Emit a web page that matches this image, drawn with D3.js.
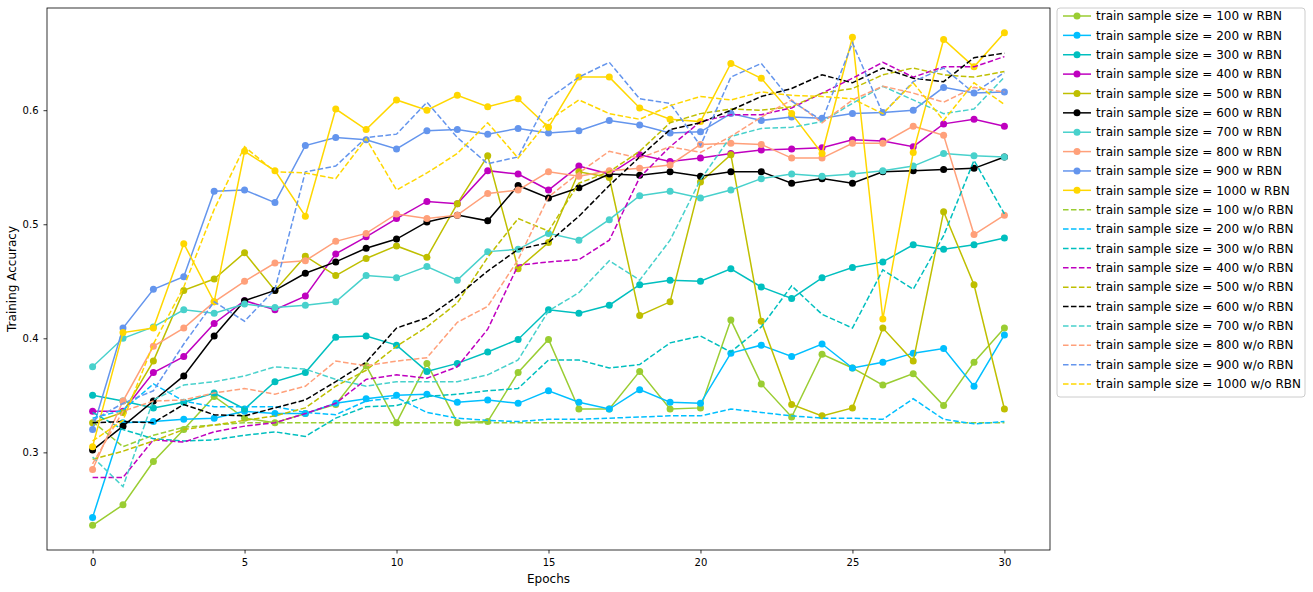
<!DOCTYPE html>
<html>
<head>
<meta charset="utf-8">
<script src="https://cdn.jsdelivr.net/npm/d3@7"></script>
<style>
  body { margin: 0; background: #fff; }
  text { font-family: "DejaVu Sans", sans-serif; }
</style>
</head>
<body>
<svg id="chart" width="1313" height="592"></svg>
<script>
const epochs = d3.range(0, 31)
const sizes = [100, 200, 300, 400, 500, 600, 700, 800, 900, 1000]
const colors = ['#9acd32', '#00bfff', '#00bfbf', '#bf00bf', '#bfbf00', '#000000', '#48d1cc', '#ffa07a', '#6495ed', '#ffd700']
const xTicks = [0, 5, 10, 15, 20, 25, 30]
const yTicks = [0.3, 0.4, 0.5, 0.6]

// with RBN (solid + markers)
const w100 = [0.236, 0.254, 0.292, 0.320, 0.349, 0.330, 0.326, 0.334, 0.342, 0.376, 0.326, 0.378, 0.326, 0.327, 0.370, 0.399, 0.338, 0.338, 0.371, 0.338, 0.339, 0.416, 0.360, 0.331, 0.386, 0.374, 0.359, 0.369, 0.341, 0.379, 0.409]
const w200 = [0.243, 0.326, 0.327, 0.329, 0.330, 0.336, 0.334, 0.334, 0.343, 0.347, 0.350, 0.351, 0.344, 0.346, 0.343, 0.354, 0.344, 0.338, 0.355, 0.344, 0.343, 0.387, 0.394, 0.384, 0.395, 0.374, 0.379, 0.387, 0.391, 0.358, 0.403]
const w300 = [0.350, 0.345, 0.339, 0.344, 0.352, 0.338, 0.362, 0.370, 0.401, 0.402, 0.394, 0.371, 0.378, 0.388, 0.399, 0.425, 0.422, 0.429, 0.447, 0.451, 0.450, 0.461, 0.445, 0.435, 0.453, 0.462, 0.467, 0.482, 0.478, 0.482, 0.488]
const w400 = [0.336, 0.336, 0.370, 0.384, 0.413, 0.433, 0.425, 0.437, 0.474, 0.489, 0.505, 0.520, 0.518, 0.547, 0.544, 0.530, 0.551, 0.544, 0.561, 0.555, 0.558, 0.562, 0.565, 0.566, 0.567, 0.574, 0.573, 0.568, 0.588, 0.592, 0.586]
const w500 = [0.326, 0.335, 0.380, 0.442, 0.452, 0.475, 0.442, 0.472, 0.455, 0.470, 0.481, 0.471, 0.518, 0.560, 0.461, 0.484, 0.546, 0.541, 0.420, 0.432, 0.537, 0.561, 0.415, 0.342, 0.332, 0.339, 0.409, 0.380, 0.511, 0.447, 0.338]
const w600 = [0.302, 0.323, 0.345, 0.367, 0.402, 0.433, 0.442, 0.457, 0.467, 0.479, 0.487, 0.502, 0.508, 0.503, 0.534, 0.523, 0.532, 0.544, 0.543, 0.546, 0.542, 0.546, 0.546, 0.536, 0.540, 0.536, 0.546, 0.547, 0.548, 0.549, 0.559]
const w700 = [0.375, 0.400, 0.410, 0.425, 0.422, 0.430, 0.427, 0.429, 0.432, 0.455, 0.453, 0.463, 0.451, 0.476, 0.478, 0.492, 0.486, 0.504, 0.525, 0.529, 0.523, 0.530, 0.540, 0.544, 0.542, 0.544, 0.547, 0.551, 0.562, 0.560, 0.559]
const w800 = [0.285, 0.345, 0.393, 0.409, 0.432, 0.450, 0.466, 0.468, 0.485, 0.492, 0.509, 0.505, 0.508, 0.527, 0.530, 0.546, 0.542, 0.547, 0.549, 0.552, 0.570, 0.571, 0.570, 0.558, 0.558, 0.571, 0.571, 0.586, 0.578, 0.491, 0.508]
const w900 = [0.320, 0.409, 0.443, 0.454, 0.529, 0.530, 0.519, 0.569, 0.576, 0.574, 0.566, 0.582, 0.583, 0.579, 0.584, 0.580, 0.582, 0.591, 0.587, 0.580, 0.581, 0.597, 0.591, 0.594, 0.593, 0.597, 0.598, 0.600, 0.620, 0.615, 0.616]
const w1000 = [0.305, 0.405, 0.409, 0.483, 0.432, 0.564, 0.547, 0.507, 0.601, 0.583, 0.609, 0.600, 0.613, 0.603, 0.610, 0.585, 0.629, 0.629, 0.602, 0.592, 0.590, 0.641, 0.628, 0.597, 0.562, 0.664, 0.417, 0.563, 0.662, 0.638, 0.668]

// without RBN (dashed)
const wo100 = [0.327, 0.305, 0.315, 0.322, 0.324, 0.326, 0.326, 0.326, 0.326, 0.326, 0.326, 0.326, 0.326, 0.326, 0.326, 0.326, 0.326, 0.326, 0.326, 0.326, 0.326, 0.326, 0.326, 0.326, 0.326, 0.326, 0.326, 0.326, 0.326, 0.326, 0.326]
const wo200 = [0.330, 0.337, 0.360, 0.345, 0.340, 0.340, 0.340, 0.335, 0.333, 0.345, 0.348, 0.335, 0.330, 0.328, 0.327, 0.329, 0.329, 0.330, 0.331, 0.332, 0.332, 0.338, 0.335, 0.332, 0.330, 0.330, 0.329, 0.347, 0.329, 0.325, 0.327]
const wo300 = [0.335, 0.320, 0.312, 0.310, 0.311, 0.315, 0.318, 0.314, 0.330, 0.340, 0.341, 0.349, 0.351, 0.354, 0.356, 0.381, 0.381, 0.374, 0.377, 0.396, 0.402, 0.388, 0.410, 0.446, 0.421, 0.409, 0.460, 0.443, 0.490, 0.556, 0.509]
const wo400 = [0.278, 0.278, 0.311, 0.309, 0.318, 0.323, 0.326, 0.334, 0.343, 0.364, 0.368, 0.365, 0.375, 0.408, 0.464, 0.467, 0.469, 0.486, 0.541, 0.568, 0.590, 0.596, 0.596, 0.602, 0.615, 0.628, 0.642, 0.629, 0.638, 0.638, 0.647]
const wo500 = [0.294, 0.301, 0.310, 0.320, 0.324, 0.328, 0.332, 0.339, 0.358, 0.372, 0.393, 0.410, 0.431, 0.471, 0.505, 0.494, 0.536, 0.546, 0.564, 0.589, 0.597, 0.601, 0.600, 0.603, 0.615, 0.619, 0.631, 0.637, 0.631, 0.629, 0.634]
const wo600 = [0.326, 0.327, 0.326, 0.342, 0.333, 0.332, 0.339, 0.346, 0.362, 0.379, 0.409, 0.418, 0.437, 0.459, 0.478, 0.484, 0.507, 0.534, 0.559, 0.583, 0.589, 0.600, 0.612, 0.619, 0.631, 0.624, 0.637, 0.628, 0.625, 0.646, 0.650]
const wo700 = [0.296, 0.270, 0.346, 0.359, 0.362, 0.367, 0.375, 0.373, 0.364, 0.358, 0.362, 0.362, 0.362, 0.368, 0.381, 0.424, 0.440, 0.468, 0.451, 0.486, 0.539, 0.577, 0.584, 0.585, 0.590, 0.606, 0.621, 0.609, 0.597, 0.601, 0.629]
const wo800 = [0.290, 0.336, 0.345, 0.346, 0.352, 0.356, 0.351, 0.358, 0.380, 0.376, 0.380, 0.383, 0.414, 0.428, 0.469, 0.524, 0.545, 0.564, 0.558, 0.568, 0.563, 0.577, 0.594, 0.609, 0.589, 0.609, 0.621, 0.615, 0.607, 0.620, 0.616]
const wo900 = [0.328, 0.343, 0.354, 0.395, 0.432, 0.415, 0.443, 0.546, 0.551, 0.576, 0.579, 0.607, 0.576, 0.553, 0.559, 0.610, 0.629, 0.642, 0.610, 0.606, 0.569, 0.629, 0.641, 0.608, 0.591, 0.659, 0.597, 0.625, 0.637, 0.615, 0.633]
const wo1000 = [0.310, 0.328, 0.395, 0.445, 0.513, 0.568, 0.546, 0.545, 0.540, 0.575, 0.530, 0.545, 0.562, 0.589, 0.558, 0.591, 0.609, 0.597, 0.592, 0.604, 0.612, 0.609, 0.616, 0.613, 0.612, 0.610, 0.597, 0.624, 0.591, 0.624, 0.605]

const withRBN = [w100, w200, w300, w400, w500, w600, w700, w800, w900, w1000]
const withoutRBN = [wo100, wo200, wo300, wo400, wo500, wo600, wo700, wo800, wo900, wo1000]

let series = []
sizes.forEach((s, i) => {
    series.push({ name: 'train sample size = ' + s + ' w RBN', color: colors[i], values: withRBN[i], dashed: false })
})
sizes.forEach((s, i) => {
    series.push({ name: 'train sample size = ' + s + ' w/o RBN', color: colors[i], values: withoutRBN[i], dashed: true })
})

let margin = { left: 47, right: 263, top: 8, bottom: 42 }
let svgWidth = 1313
let svgHeight = 592
let plotW = svgWidth - margin.left - margin.right
let plotH = svgHeight - margin.top - margin.bottom

let svg = d3.select('#chart')

// matplotlib style 5% margins
let allVals = series.flatMap(s => s.values)
let yMin = d3.min(allVals), yMax = d3.max(allVals)
let yPad = (yMax - yMin) * 0.05

let x = d3.scaleLinear()
    .domain([-1.5, 31.5])
    .range([margin.left, margin.left + plotW])

let y = d3.scaleLinear()
    .domain([yMin - yPad, yMax + yPad])
    .range([margin.top + plotH, margin.top])

let xAxis = svg.append('g')
    .attr('transform', 'translate(0,' + (margin.top + plotH) + ')')
    .call(d3.axisBottom(x).tickValues(xTicks).tickSize(3.5).tickPadding(5).tickFormat(d3.format('d')))

let yAxis = svg.append('g')
    .attr('transform', 'translate(' + margin.left + ',0)')
    .call(d3.axisLeft(y).tickValues(yTicks).tickSize(3.5).tickPadding(5).tickFormat(d3.format('.1f')))

svg.selectAll('.domain').remove()
svg.selectAll('.tick text').style('font-size', '10px').attr('fill', '#000')
svg.selectAll('.tick line').attr('stroke', '#000').attr('stroke-width', 0.8)

let plot = svg.append('g')

let line = d3.line()
    .x((d, i) => x(epochs[i]))
    .y(d => y(d))

series.forEach(s => {
    plot.append('path')
        .datum(s.values)
        .attr('d', line)
        .attr('fill', 'none')
        .attr('stroke', s.color)
        .attr('stroke-width', 1.5)
        .attr('stroke-dasharray', s.dashed ? '5.55,2.4' : null)

    if (!s.dashed) {
        plot.selectAll(null)
            .data(s.values)
            .enter()
            .append('circle')
            .attr('cx', (d, i) => x(epochs[i]))
            .attr('cy', d => y(d))
            .attr('r', 3.5)
            .attr('fill', s.color)
    }
})

// frame
svg.append('rect')
    .attr('x', margin.left)
    .attr('y', margin.top)
    .attr('width', plotW)
    .attr('height', plotH)
    .attr('fill', 'none')
    .attr('stroke', '#000')
    .attr('stroke-width', 0.8)

svg.append('text')
    .attr('x', margin.left + plotW / 2)
    .attr('y', svgHeight - 9)
    .attr('text-anchor', 'middle')
    .style('font-size', '12px')
    .text('Epochs')

svg.append('text')
    .attr('transform', 'translate(16,' + (margin.top + plotH / 2) + ') rotate(-90)')
    .attr('text-anchor', 'middle')
    .style('font-size', '12px')
    .text('Training Accuracy')

// legend
let legX = 1057, legY = 8, rowH = 19.37
let legend = svg.append('g')

legend.append('rect')
    .attr('x', legX)
    .attr('y', legY)
    .attr('width', 248)
    .attr('height', 389)
    .attr('rx', 3)
    .attr('fill', 'white')
    .attr('fill-opacity', 0.8)
    .attr('stroke', '#cccccc')

let rows = legend.selectAll('g.row')
    .data(series)
    .enter()
    .append('g')
    .attr('transform', (d, i) => 'translate(' + legX + ',' + (legY + 8 + i * rowH) + ')')

rows.append('line')
    .attr('x1', 6)
    .attr('x2', 34)
    .attr('stroke', d => d.color)
    .attr('stroke-width', 1.5)
    .attr('stroke-dasharray', d => d.dashed ? '5.55,2.4' : null)

rows.filter(d => !d.dashed)
    .append('circle')
    .attr('cx', 20)
    .attr('r', 3.5)
    .attr('fill', d => d.color)

rows.append('text')
    .attr('x', 39)
    .attr('dy', '0.35em')
    .style('font-size', '12px')
    .text(d => d.name)
</script>
</body>
</html>
